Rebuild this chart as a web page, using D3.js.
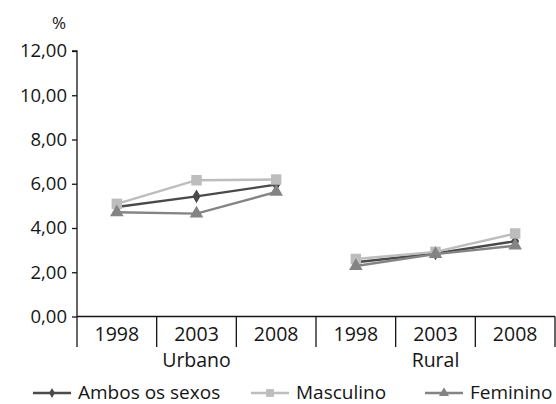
<!DOCTYPE html>
<html>
<head>
<meta charset="utf-8">
<script src="https://cdn.jsdelivr.net/npm/d3@7"></script>
<style>
  body { margin: 0; background: #fff; }
  svg { font-family: "Open Sans", Lato, sans-serif; }
</style>
</head>
<body>
<svg width="556" height="404"></svg>
<script>
// groups and years on the x axis
const groups = ['Urbano', 'Rural'];
const years = ['1998', '2003', '2008'];
const yTicks = [0, 2, 4, 6, 8, 10, 12];

// series values, one list per group (urbano then rural)
const ambosUrbano = [4.95, 5.43, 5.96];
const ambosRural = [2.45, 2.85, 3.40];
const mascUrbano = [5.09, 6.16, 6.19];
const mascRural = [2.60, 2.92, 3.75];
const femUrbano = [4.71, 4.65, 5.63];
const femRural = [2.28, 2.82, 3.20];

const series = [
  {name: 'Ambos os sexos', color: '#4a4a4a', shape: d3.symbolDiamond, size: 55, values: [ambosUrbano, ambosRural]},
  {name: 'Masculino', color: '#bdbdbd', shape: d3.symbolSquare, size: 110, values: [mascUrbano, mascRural]},
  {name: 'Feminino', color: '#848484', shape: d3.symbolTriangle, size: 80, values: [femUrbano, femRural]},
];
const legendX = [33, 251, 425];

const svg = d3.select('svg');
const mLeft = 77, mRight = 555, mTop = 51, mBottom = 316.5;
const ink = '#151515';

const cats = [];
groups.forEach(g => years.forEach(y => cats.push(`${g}-${y}`)));

const x = d3.scaleBand().domain(cats).range([mLeft, mRight]);
const y = d3.scaleLinear().domain([0, 12]).range([mBottom, mTop]);

// y axis
const yAxis = svg.append('g')
  .attr('transform', `translate(${mLeft},0)`)
  .call(d3.axisLeft(y).tickValues(yTicks).tickSize(5).tickPadding(5)
    .tickFormat(d => d3.format('.2f')(d).replace('.', ',')));
yAxis.attr('font-family', null).attr('font-size', 18.5);
yAxis.selectAll('text').attr('fill', ink);
yAxis.selectAll('line, path').attr('stroke', ink).attr('stroke-width', 1.3);
yAxis.select('.domain').attr('d', `M-5,${mTop}H0V${mBottom}`);

svg.append('text').attr('x', 59).attr('y', 29).attr('font-size', 17)
  .attr('text-anchor', 'middle').attr('fill', ink).text('%');

// x axis with separators
svg.append('line').attr('x1', mLeft).attr('x2', mRight).attr('y1', mBottom).attr('y2', mBottom)
  .attr('stroke', ink).attr('stroke-width', 1.3);
cats.forEach((c, i) => {
  const xr = x(c) + x.bandwidth();
  svg.append('line').attr('x1', xr).attr('x2', xr).attr('y1', mBottom).attr('y2', 347)
    .attr('stroke', ink).attr('stroke-width', 1.3);
  svg.append('text').attr('x', x(c) + x.bandwidth() / 2).attr('y', 340.5)
    .attr('text-anchor', 'middle').attr('font-size', 19.5).attr('fill', ink)
    .text(years[i % 3]);
});
svg.append('line').attr('x1', mLeft).attr('x2', mLeft).attr('y1', mBottom).attr('y2', 347)
  .attr('stroke', ink).attr('stroke-width', 1.3);
groups.forEach(g => {
  svg.append('text').attr('x', x(`${g}-2003`) + x.bandwidth() / 2).attr('y', 366.5)
    .attr('text-anchor', 'middle').attr('font-size', 19.5).attr('fill', ink).text(g);
});

// lines and markers
const line = d3.line().x(d => d.x).y(d => d.y);
series.forEach(s => {
  groups.forEach((g, gi) => {
    const pts = s.values[gi].map((v, i) => ({x: x(`${g}-${years[i]}`) + x.bandwidth() / 2, y: y(v)}));
    svg.append('path').attr('d', line(pts)).attr('fill', 'none')
      .attr('stroke', s.color).attr('stroke-width', 2.4);
    svg.selectAll(null).data(pts).enter().append('path')
      .attr('transform', p => `translate(${p.x},${p.y})`)
      .attr('d', d3.symbol().type(s.shape).size(s.size))
      .attr('fill', s.color);
  });
});

// legend
series.forEach((s, i) => {
  const g = svg.append('g').attr('transform', `translate(${legendX[i]},393)`);
  g.append('line').attr('x1', 0).attr('x2', 38).attr('stroke', s.color).attr('stroke-width', 2.4);
  g.append('path').attr('transform', 'translate(19,0)')
    .attr('d', d3.symbol().type(s.shape).size(s.size * 0.55)).attr('fill', s.color);
  g.append('text').attr('x', 45).attr('y', 5.5).attr('font-size', 19).attr('fill', ink).text(s.name);
});
</script>
</body>
</html>
